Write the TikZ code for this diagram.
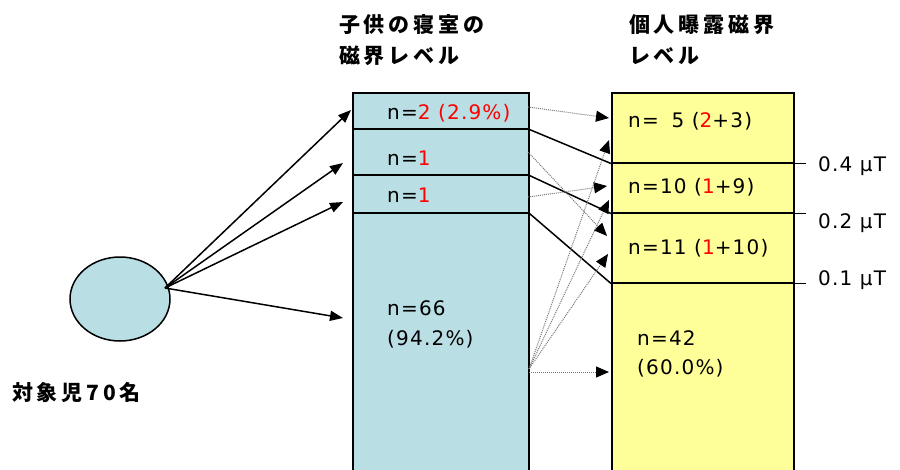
\documentclass[tikz,border=0pt]{standalone}
\usepackage{fontspec}
\setmainfont{DejaVu Sans}[LetterSpace=6]
\newfontfamily\jp{Noto Sans CJK JP}[LetterSpace=18]
\usetikzlibrary{arrows.meta,shapes.geometric}
\definecolor{boxblue}{RGB}{185,222,228}
\definecolor{boxyellow}{RGB}{255,255,153}
\definecolor{dotgray}{RGB}{120,120,120}
\definecolor{txtred}{RGB}{255,0,0}
\begin{document}
\begin{tikzpicture}[x=1pt,y=-1pt,
  rowbox/.style={draw=black, line width=1.5pt, inner sep=0pt, anchor=north west},
  bluerow/.style={rowbox, fill=boxblue, minimum width=176pt},
  yellowrow/.style={rowbox, fill=boxyellow, minimum width=182pt},
  lbl/.style={anchor=west, inner sep=0pt, font=\fontsize{20}{24}\selectfont},
  jplbl/.style={anchor=north west, inner sep=0pt, align=left, font=\fontsize{21}{31}\selectfont\jp\bfseries},
  solidarrow/.style={line width=1.5pt, -{Triangle[length=13pt,width=10pt]}},
  solidline/.style={line width=1.5pt},
  dotarrow/.style={densely dotted, dotgray, line width=1pt, -{Triangle[length=13pt,width=11pt,color=black]}}
]
\useasboundingbox (0,0) rectangle (900,469);
\clip (0,0) rectangle (900,469);
% left column rows
\node[bluerow, minimum height=36pt] (L1) at (352,92) {};
\node[bluerow, minimum height=46pt] (L2) at (352,128) {};
\node[bluerow, minimum height=38pt] (L3) at (352,174) {};
\node[bluerow, minimum height=268pt] (L4) at (352,212) {};
% right column rows
\node[yellowrow, minimum height=70pt] (R1) at (611,92) {};
\node[yellowrow, minimum height=50pt] (R2) at (611,162) {};
\node[yellowrow, minimum height=70pt] (R3) at (611,212) {};
\node[yellowrow, minimum height=198pt] (R4) at (611,282) {};
% ellipse
\node[ellipse, draw=black, line width=1.5pt, fill=boxblue, minimum width=100pt, minimum height=84pt, inner sep=0pt] (E) at (120,299) {};
% titles
\node[jplbl] (T1) at (339,14) {子供の寝室の\\磁界レベル};
\node[jplbl] (T2) at (629,14) {個人曝露磁界\\レベル};
\node[jplbl, anchor=west] (T3) at (12,393) {対象児70名};
% left texts
\node[lbl] (l1) at (387,113) {n=\textcolor{txtred}{2 (2.9\%)}};
\node[lbl] (l2) at (387,158) {n=\textcolor{txtred}{1}};
\node[lbl] (l3) at (387,195) {n=\textcolor{txtred}{1}};
\node[lbl, align=left, anchor=north west, font=\fontsize{20}{30}\selectfont] (l4) at (387,300) {n=66\\(94.2\%)};
% right texts
\node[lbl] (r1) at (628,121) {n=\hphantom{1}5 (\textcolor{txtred}{2}+3)};
\node[lbl] (r2) at (628,187) {n=10 (\textcolor{txtred}{1}+9)};
\node[lbl] (r3) at (628,248) {n=11 (\textcolor{txtred}{1}+10)};
\node[lbl, align=left, anchor=north west, font=\fontsize{20}{29}\selectfont] (r4) at (637,330) {n=42\\(60.0\%)};
% threshold ticks and labels
\draw[solidline] (R1.south east) -- ++(11,0);
\draw[solidline] (R2.south east) -- ++(11,0);
\draw[solidline] (R3.south east) -- ++(11,0);
\node[lbl] (k1) at (818,166) {0.4 μT};
\node[lbl] (k2) at (818,223) {0.2 μT};
\node[lbl] (k3) at (818,280) {0.1 μT};
% arrows from ellipse
\coordinate (eo) at (165,288);
\coordinate (a1) at (351,110);
\coordinate (a2) at (343,163);
\coordinate (a3) at (343,202);
\coordinate (a4) at (343,318);
\draw[solidarrow] (eo) -- (a1);
\draw[solidarrow] (eo) -- (a2);
\draw[solidarrow] (eo) -- (a3);
\draw[solidarrow] (eo) -- (a4);
% solid links between thresholds
\draw[solidline] (L1.south east) -- (R1.south west);
\draw[solidline] (L2.south east) -- (R2.south west);
\draw[solidline] (L3.south east) -- (R3.south west);
% dotted transition arrows
\coordinate (s1) at (528,107);
\coordinate (s2) at (528,152);
\coordinate (s3) at (528,197);
\coordinate (s4) at (529,369);
\coordinate (s5) at (529,372);
\coordinate (e1) at (609,118);
\coordinate (e2) at (607,236);
\coordinate (e3) at (607,186);
\coordinate (e4) at (609,140);
\coordinate (e5) at (609,200);
\coordinate (e6) at (608,254);
\coordinate (e7) at (609,372);
\draw[dotarrow] (s1) -- (e1);
\draw[dotarrow] (s2) -- (e2);
\draw[dotarrow] (s3) -- (e3);
\draw[dotarrow] (s4) -- (e4);
\draw[dotarrow] (s4) -- (e5);
\draw[dotarrow] (s4) -- (e6);
\draw[dotarrow] (s5) -- (e7);
\end{tikzpicture}
\end{document}
